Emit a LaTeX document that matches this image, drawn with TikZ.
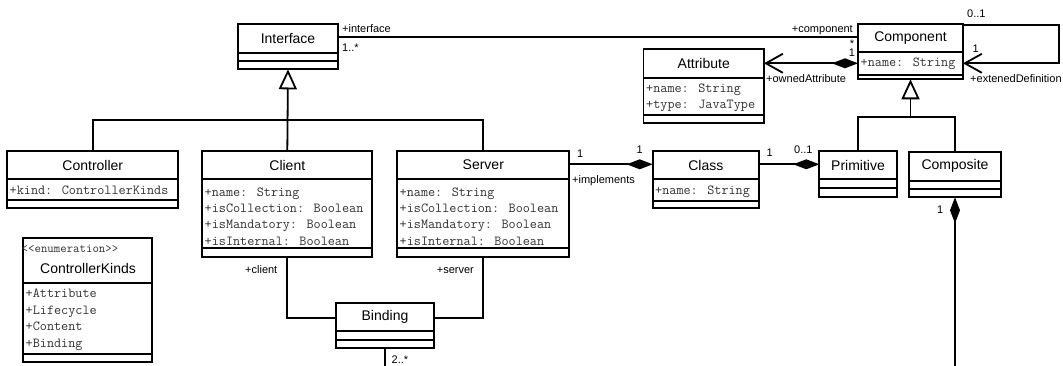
\documentclass[tikz,border=0pt]{standalone}
\usepackage{fontspec}
\setmainfont{Liberation Sans}
\usetikzlibrary{arrows.meta}
\tikzset{
  umlbox/.style={draw, line width=1.8pt, fill=white, inner sep=0pt, outer sep=0pt, anchor=north west},
  sepline/.style={line width=1.8pt},
  ttl/.style={inner sep=0pt, font=\fontsize{14}{16}\selectfont},
  attr/.style={anchor=base west, inner sep=0pt, font=\ttfamily\fontsize{13.8}{16}\selectfont, text=black!80},
  stereo/.style={anchor=base west, inner sep=0pt, font=\ttfamily\fontsize{12.5}{14}\selectfont, text=black!80},
  lbl/.style={anchor=base west, inner sep=0pt, font=\fontsize{11}{13}\selectfont},
  conn/.style={line width=1.8pt},
  gen/.tip={Triangle[length=20pt, width=18pt, fill=white]},
  nav/.tip={Straight Barb[length=17pt, width=19pt]},
  diam/.tip={Diamond[length=26pt, width=10pt]},
}
% #1 node name, #2 title, #3 x1, #4 y1, #5 x2, #6 y2, #7 sep1, #8 sep2
\newcommand\umlclass[8]{%
  \node[umlbox, minimum width={(#5-#3)*1pt}, minimum height={(#6-#4)*1pt}] (#1) at (#3,#4) {};
  \draw[sepline] (#1.west |- 0,#7) -- (#1.east |- 0,#7);
  \draw[sepline] (#1.west |- 0,#8) -- (#1.east |- 0,#8);
  \node[ttl] (#1-title) at ({(#3+#5)/2},{(#4+#7)/2}) {#2};
}
\begin{document}
\begin{tikzpicture}[x=1pt,y=-1pt]
\useasboundingbox (0,0) rectangle (1063,366);

% ---------- classes ----------
\umlclass{Interface}{Interface}{238}{24}{338}{69.3}{52.7}{61}
\umlclass{Component}{Component}{858}{24}{963}{79.3}{52.3}{75}
\umlclass{Attribute}{Attribute}{643.5}{49}{764}{122.7}{77.7}{115}
\umlclass{Controller}{Controller}{7.3}{151}{178.3}{208.3}{179.3}{200}
\umlclass{Client}{Client}{202.3}{151}{372.3}{257}{179.3}{248.3}
\umlclass{Server}{Server}{397.3}{151}{569.3}{257}{179.3}{248.3}
\umlclass{Class}{Class}{652.7}{150.7}{759}{208.3}{179.3}{200.7}
\umlclass{Primitive}{Primitive}{819.3}{150.7}{896.7}{196.7}{179.3}{187.7}
\umlclass{Composite}{Composite}{909.3}{151.7}{1000.7}{197.3}{180.7}{189}
\umlclass{Binding}{Binding}{335.7}{302.7}{434.3}{348.3}{331}{340}
\umlclass{Kinds}{}{23.3}{237.7}{152.3}{361.7}{283.3}{354}

% ---------- attributes ----------
\node[attr] (cmp-a1) at (860.5,66.5) {+name: String};
\node[attr] (att-a1) at (646,92.5) {+name: String};
\node[attr] (att-a2) at (646,108.5) {+type: JavaType};
\node[attr] (ctl-a1) at (9.5,194.5) {+kind: ControllerKinds};
\node[attr] (cli-a1) at (204.5,197) {+name: String};
\node[attr] (cli-a2) at (204.5,213) {+isCollection: Boolean};
\node[attr] (cli-a3) at (204.5,229) {+isMandatory: Boolean};
\node[attr] (cli-a4) at (204.5,245) {+isInternal: Boolean};
\node[attr] (srv-a1) at (399.5,197) {+name: String};
\node[attr] (srv-a2) at (399.5,213) {+isCollection: Boolean};
\node[attr] (srv-a3) at (399.5,229) {+isMandatory: Boolean};
\node[attr] (srv-a4) at (399.5,245) {+isInternal: Boolean};
\node[attr] (cls-a1) at (655,195) {+name: String};
\node[stereo] (knd-st) at (21.5,252.5) {<<enumeration>>};
\node[ttl] (knd-title) at (88,268.3) {ControllerKinds};
\node[attr] (knd-a1) at (25.5,297.5) {+Attribute};
\node[attr] (knd-a2) at (25.5,314) {+Lifecycle};
\node[attr] (knd-a3) at (25.5,330.5) {+Content};
\node[attr] (knd-a4) at (25.5,347) {+Binding};

% ---------- generalisations ----------
\draw[conn] (Controller.north) -- (Controller.north |- 0,120) -- (Server.north |- 0,120) -- (Server.north);
\draw[conn,-gen] (Client.north) -- (Interface.south);
\draw[conn] (Primitive.north) -- (Primitive.north |- 0,117) -- (Composite.north |- 0,117) -- (Composite.north);
\draw[conn,-gen] (Component.south |- 0,117) -- (Component.south);

% ---------- associations ----------
\draw[conn] (Interface.east |- 0,37.3) -- (Component.west |- 0,37.3);
\node[lbl] (l-if) at (342,32.5) {+interface};
\node[lbl] (l-if-m) at (342,51.5) {1..*};
\node[lbl, anchor=base east] (l-cp) at (853,33) {+component};
\node[lbl, anchor=base] (l-cp-m) at (852,47.3) {*};

\draw[conn,diam-nav] (Component.west |- 0,63.3) -- (Attribute.east |- 0,63.3);
\node[lbl, anchor=base] (l-att-1) at (852,56.2) {1};
\node[lbl] (l-att) at (766,83) {+ownedAttribute};

\coordinate (loop1) at (1059.3,25);
\coordinate (loop2) at (1059.3,63.3);
\draw[conn,-nav] (Component.east |- 0,25) -- (loop1) -- (loop2) -- (Component.east |- 0,63.3);
\node[lbl] (l-loop-a) at (967,17.3) {0..1};
\node[lbl] (l-loop-b) at (972.5,52.7) {1};
\node[lbl] (l-loop-c) at (970,82.5) {+extenedDefinition};

\draw[conn,-diam] (Server.east |- 0,164.3) -- (Class.west |- 0,164.3);
\node[lbl] (l-sc-1) at (577,157.3) {1};
\node[lbl] (l-sc-2) at (636.5,153.3) {1};
\node[lbl] (l-impl) at (572,183.5) {+implements};

\draw[conn,-diam] (Class.east |- 0,164.3) -- (Primitive.west |- 0,164.3);
\node[lbl] (l-cpr-1) at (766.5,156.7) {1};
\node[lbl] (l-cpr-2) at (794,154) {0..1};

\coordinate (compEnd) at (Composite.south |- 0,366);
\draw[conn,diam-] (Composite.south) -- (compEnd);
\node[lbl] (l-comp-1) at (937,213.3) {1};

\draw[conn] (Client.south) -- (Client.south |- 0,318.3) -- (Binding.west |- 0,318.3);
\draw[conn] (Server.south) -- (Server.south |- 0,318.3) -- (Binding.east |- 0,318.3);
\node[lbl] (l-cli) at (245,273.3) {+client};
\node[lbl] (l-srv) at (436.7,273.3) {+server};

\coordinate (bindEnd) at (Binding.south |- 0,366);
\draw[conn] (Binding.south) -- (bindEnd);
\node[lbl] (l-bind) at (391.5,363.3) {2..*};
\end{tikzpicture}
\end{document}
